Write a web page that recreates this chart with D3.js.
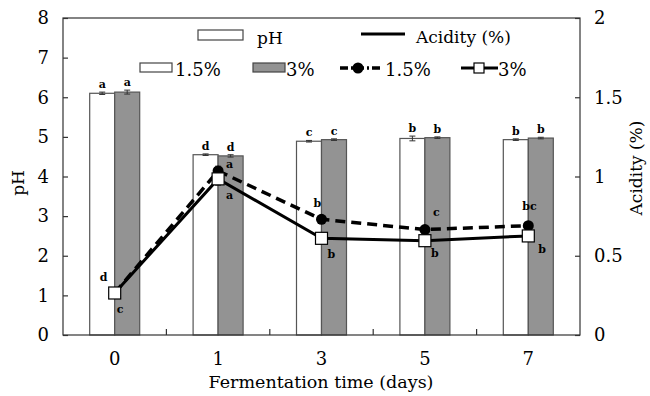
<!DOCTYPE html>
<html>
<head>
<meta charset="utf-8">
<script src="https://cdn.jsdelivr.net/npm/d3@7"></script>
<style>
  body{margin:0;background:#fff;}
  svg text{font-family:"DejaVu Serif","Liberation Serif",serif;fill:#000;}
</style>
</head>
<body>
<svg id="chart" width="650" height="396"></svg>
<script>
// datos
var dias = ['0','1','3','5','7'];
var ph15 = [6.10, 4.55, 4.89, 4.96, 4.93];
var ph3  = [6.13, 4.52, 4.93, 4.98, 4.97];
var phErr15 = [0.03, 0.02, 0.02, 0.06, 0.02];
var phErr3  = [0.05, 0.03, 0.02, 0.02, 0.02];
var ac15 = [0.265, 1.035, 0.73, 0.665, 0.69];
var ac3  = [0.265, 0.985, 0.61, 0.595, 0.625];
var acErr15 = [0.01, 0.03, 0.01, 0.01, 0.01];
var acErr3  = [0.01, 0.04, 0.01, 0.02, 0.02];
var letPh15 = ['a','d','c','b','b'];
var letPh3  = ['a','d','c','b','b'];
var letAc15 = ['d','a','b','c','bc'];
var letAc3  = ['c','a','b','b','b'];
var ticksPh = [0,1,2,3,4,5,6,7,8];
var ticksAc = [0,0.5,1,1.5,2];

var m = {l:63, r:580, t:18, b:335};
var svg = d3.select('#chart');

var x = d3.scaleBand().domain(dias).range([m.l, m.r]);
var y = d3.scaleLinear().domain([0,8]).range([m.b, m.t]);
var y2 = d3.scaleLinear().domain([0,2]).range([m.b, m.t]);
var bw = 25;
var cx = d => x(d) + x.bandwidth()/2;

/* barras pH */
function barras(vals, errs, off, fill){
  var g = svg.append('g');
  g.selectAll('rect').data(vals).enter().append('rect')
    .attr('x', (d,i) => cx(dias[i]) + off)
    .attr('y', d => y(d))
    .attr('width', bw)
    .attr('height', d => y(0) - y(d))
    .attr('fill', fill).attr('stroke', '#555').attr('stroke-width', 1.2);
  g.selectAll('path').data(vals).enter().append('path')
    .attr('d', (d,i) => {
      var xc = cx(dias[i]) + off + bw/2, a = y(d+errs[i]), b = y(d-errs[i]);
      return 'M'+(xc-3)+','+a+'H'+(xc+3)+'M'+xc+','+a+'V'+b+'M'+(xc-3)+','+b+'H'+(xc+3);
    })
    .attr('stroke', '#333').attr('stroke-width', 1).attr('fill', 'none');
}
barras(ph15, phErr15, -bw, '#fff');
barras(ph3, phErr3, 0, '#939393');

/* letras de barras */
function letrasBarras(vals, errs, lets, off){
  svg.append('g').selectAll('text').data(lets).enter().append('text')
    .attr('x', (d,i) => cx(dias[i]) + off + bw/2)
    .attr('y', (d,i) => y(vals[i] + errs[i]) - 4)
    .attr('text-anchor', 'middle')
    .style('font-size', '11px').style('font-weight', 'bold')
    .text(d => d);
}
letrasBarras(ph15, phErr15, letPh15, -bw);
letrasBarras(ph3, phErr3, letPh3, 0);

/* lineas de acidez */
var lin = d3.line().x((d,i) => cx(dias[i])).y(d => y2(d));
svg.append('path').datum(ac15).attr('d', lin)
  .attr('fill','none').attr('stroke','#000').attr('stroke-width',3.5).attr('stroke-dasharray','10,6');
svg.append('path').datum(ac3).attr('d', lin)
  .attr('fill','none').attr('stroke','#000').attr('stroke-width',3);

function errV(vals, errs){
  svg.append('g').selectAll('path').data(vals).enter().append('path')
    .attr('d', (d,i) => {
      var xc = cx(dias[i]), a = y2(d+errs[i]), b = y2(d-errs[i]);
      return 'M'+(xc-3)+','+a+'H'+(xc+3)+'M'+xc+','+a+'V'+b+'M'+(xc-3)+','+b+'H'+(xc+3);
    })
    .attr('stroke','#222').attr('stroke-width',1).attr('fill','none');
}
errV(ac15, acErr15);
errV(ac3, acErr3);

svg.append('g').selectAll('circle').data(ac15).enter().append('circle')
  .attr('cx', (d,i) => cx(dias[i])).attr('cy', d => y2(d)).attr('r', 5.5).attr('fill','#000');
svg.append('g').selectAll('rect').data(ac3).enter().append('rect')
  .attr('x', (d,i) => cx(dias[i]) - 6).attr('y', d => y2(d) - 6)
  .attr('width', 12).attr('height', 12)
  .attr('fill','#fff').attr('stroke','#000').attr('stroke-width',1.2);

/* letras de acidez */
var pos15 = [[-15,-12],[8,-3],[-8,-12],[8,-14],[-6,-16]];
var pos3  = [[2,20],[8,20],[6,20],[6,16],[10,17]];
function letrasAc(vals, lets, pos){
  svg.append('g').selectAll('text').data(lets).enter().append('text')
    .attr('x', (d,i) => cx(dias[i]) + pos[i][0])
    .attr('y', (d,i) => y2(vals[i]) + pos[i][1])
    .style('font-size', '11px').style('font-weight', 'bold')
    .text(d => d);
}
letrasAc(ac15, letAc15, pos15);
letrasAc(ac3, letAc3, pos3);

/* ejes */
svg.append('rect').attr('x', m.l).attr('y', m.t).attr('width', m.r-m.l).attr('height', m.b-m.t)
  .attr('fill','none').attr('stroke','#333').attr('stroke-width',1.2);

var yAx = svg.append('g').attr('transform','translate('+m.l+',0)')
  .call(d3.axisLeft(y).tickValues(ticksPh).tickSize(-5).tickPadding(14).tickFormat(d3.format('d')));
var y2Ax = svg.append('g').attr('transform','translate('+m.r+',0)')
  .call(d3.axisRight(y2).tickValues(ticksAc).tickSize(-5).tickPadding(14).tickFormat(d => d));
var xAx = svg.append('g').attr('transform','translate(0,'+m.b+')')
  .call(d3.axisBottom(x).tickSize(0).tickPadding(14));
// marcas entre categorias
svg.append('g').selectAll('line').data(dias.slice(1)).enter().append('line')
  .attr('x1', d => x(d)).attr('x2', d => x(d))
  .attr('y1', m.b).attr('y2', m.b-6).attr('stroke','#333').attr('stroke-width',1.2);

[yAx, y2Ax, xAx].forEach(a => {
  a.select('.domain').remove();
  a.selectAll('line').attr('stroke','#333').attr('stroke-width',1.2);
  a.selectAll('text').style('font-size','18px').style('font-family','"DejaVu Serif",serif');
});
xAx.selectAll('text').attr('dy','0.9em');

svg.append('text').attr('transform','translate(24,183) rotate(-90)')
  .attr('text-anchor','middle').style('font-size','17px').text('pH');
svg.append('text').attr('transform','translate(642,168) rotate(-90)')
  .attr('text-anchor','middle').style('font-size','17px').text('Acidity (%)');
svg.append('text').attr('x', 321).attr('y', 388)
  .attr('text-anchor','middle').style('font-size','17.5px').text('Fermentation time (days)');

/* leyenda */
var leg = svg.append('g');
leg.append('rect').attr('x',198).attr('y',30).attr('width',45).attr('height',10)
  .attr('fill','#fff').attr('stroke','#444').attr('stroke-width',1.2);
leg.append('text').attr('x',257).attr('y',44).style('font-size','17px').text('pH');
leg.append('line').attr('x1',361).attr('x2',405).attr('y1',34).attr('y2',34)
  .attr('stroke','#000').attr('stroke-width',3);
leg.append('text').attr('x',416).attr('y',43).style('font-size','17px').text('Acidity (%)');

leg.append('rect').attr('x',140).attr('y',63).attr('width',32).attr('height',9)
  .attr('fill','#fff').attr('stroke','#444').attr('stroke-width',1.2);
leg.append('text').attr('x',175).attr('y',76).style('font-size','18px').text('1.5%');
leg.append('rect').attr('x',253).attr('y',63).attr('width',32).attr('height',9)
  .attr('fill','#939393').attr('stroke','#444').attr('stroke-width',1.2);
leg.append('text').attr('x',286).attr('y',76).style('font-size','18px').text('3%');

leg.append('path').attr('d','M340,68H380').attr('stroke','#000').attr('stroke-width',3.5)
  .attr('stroke-dasharray','8,3,2,3');
leg.append('circle').attr('cx',358).attr('cy',68).attr('r',5.5).attr('fill','#000');
leg.append('text').attr('x',385).attr('y',76).style('font-size','18px').text('1.5%');
leg.append('line').attr('x1',461).attr('x2',498).attr('y1',68).attr('y2',68)
  .attr('stroke','#000').attr('stroke-width',3);
leg.append('rect').attr('x',474).attr('y',63).attr('width',10).attr('height',10)
  .attr('fill','#fff').attr('stroke','#000').attr('stroke-width',1.2);
leg.append('text').attr('x',498).attr('y',76).style('font-size','18px').text('3%');
</script>
</body>
</html>
